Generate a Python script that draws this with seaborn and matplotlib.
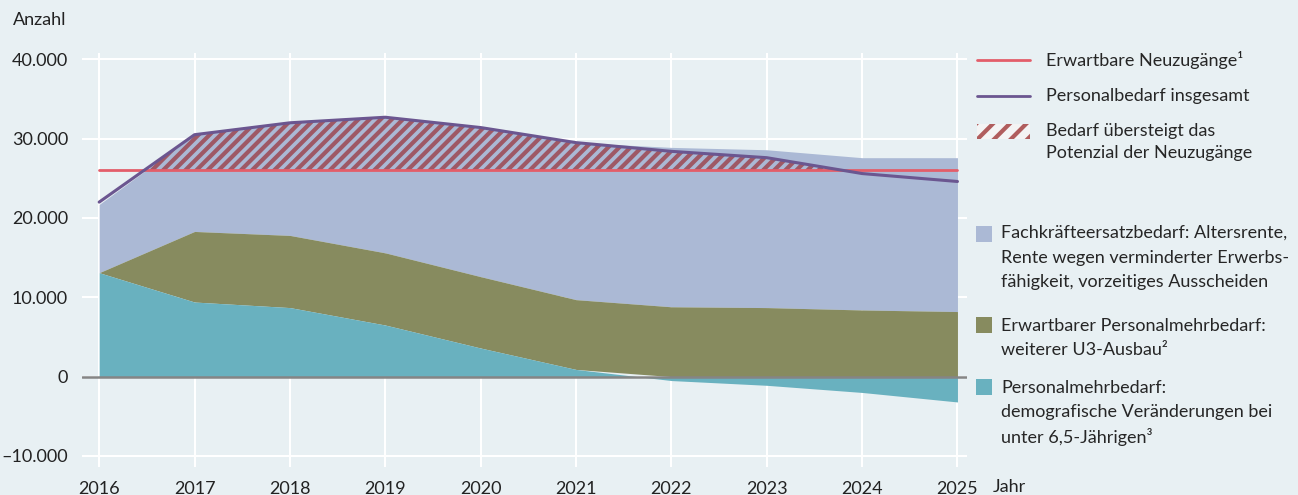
import matplotlib
matplotlib.use("Agg")
import matplotlib.pyplot as plt
import numpy as np
import pandas as pd
import seaborn as sns
from matplotlib.lines import Line2D
from matplotlib.patches import Rectangle
from matplotlib.ticker import FuncFormatter

# Daten
jahre = [2016, 2017, 2018, 2019, 2020, 2021, 2022, 2023, 2024, 2025]
demografie = [13100, 9400, 8700, 6500, 3600, 900, -500, -1100, -2000, -3200]
u3_ausbau = [0, 8900, 9100, 9100, 9000, 8800, 8800, 8700, 8400, 8200]
ersatzbedarf = [8600, 12200, 14200, 17100, 18800, 19800, 20100, 19900, 19200, 19400]
bedarf_gesamt = [22000, 30500, 32000, 32700, 31400, 29500, 28400, 27600, 25600, 24600]
neuzugaenge = [26000, 26000, 26000, 26000, 26000, 26000, 26000, 26000, 26000, 26000]

yticks = [-10000, 0, 10000, 20000, 30000, 40000]

# Farben
bg = "#e8f0f3"
c_lav = "#abb9d5"
c_olive = "#878b5f"
c_teal = "#69b1bf"
c_red = "#e35d6a"
c_purple = "#6b5690"
c_hatch = "#9e5865"

sns.set_theme(style="darkgrid")
plt.rcParams["font.family"] = ["Lato", "DejaVu Sans"]
plt.rcParams["hatch.linewidth"] = 3.0

df = pd.DataFrame({
    "jahr": jahre,
    "demografie": demografie,
    "u3": u3_ausbau,
    "ersatz": ersatzbedarf,
    "gesamt": bedarf_gesamt,
    "neu": neuzugaenge,
})
demo_pos = np.clip(df["demografie"].values, 0, None)
olive_top = demo_pos + df["u3"].values
lav_top = olive_top + df["ersatz"].values

W, H = 1298, 495
fig = plt.figure(figsize=(W / 100, H / 100), dpi=100)
fig.patch.set_facecolor(bg)
ax = fig.add_axes([82 / W, 1 - 467 / H, (967 - 82) / W, (467 - 53) / H])
ax.set_facecolor(bg)

# gestapelte Flächen
ax.fill_between(df["jahr"], olive_top, lav_top, color=c_lav, lw=0, zorder=2)
ax.fill_between(df["jahr"], demo_pos, olive_top, color=c_olive, lw=0, zorder=2)
ax.fill_between(df["jahr"], 0, df["demografie"], color=c_teal, lw=0, zorder=2)

# Bedarf übersteigt Neuzugänge
ax.fill_between(df["jahr"], df["neu"], df["gesamt"], where=df["gesamt"] > df["neu"],
                interpolate=True, facecolor="none", edgecolor=c_hatch, hatch="///",
                lw=0, zorder=3)

ax.axhline(0, color="#858585", lw=1.8, zorder=4)
sns.lineplot(data=df, x="jahr", y="neu", color=c_red, lw=2, ax=ax, zorder=5)
sns.lineplot(data=df, x="jahr", y="gesamt", color=c_purple, lw=2.2, ax=ax, zorder=6)

ax.set_xlim(2015.82, 2025.1)
ax.set_ylim(-11400, 40800)
ax.set_xticks(jahre)
ax.set_yticks(yticks)
ax.yaxis.set_major_formatter(FuncFormatter(
    lambda v, p: ("\u2013" if v < 0 else "") + f"{abs(v):,.0f}".replace(",", ".")))
ax.grid(True, color="white", lw=1.5)
ax.set_axisbelow(True)
ax.tick_params(axis="both", length=0, labelsize=13, colors="#222222", pad=10)
ax.set_xlabel("")
ax.set_ylabel("")
for s in ax.spines.values():
    s.set_visible(False)

fig.text(13 / W, 1 - 20 / H, "Anzahl", fontsize=13, color="#222222", va="center", ha="left")
fig.text(993 / W, 1 - 487 / H, "Jahr", fontsize=13, color="#222222", va="center", ha="left")


# Legende (manuell in Pixelkoordinaten)
def fx(x):
    return x / W


def fy(y):
    return 1 - y / H


fs = 13
tc = "#262626"
fig.add_artist(Line2D([fx(977), fx(1030)], [fy(60), fy(60)], color=c_red, lw=2,
                      transform=fig.transFigure))
fig.text(fx(1046), fy(60), "Erwartbare Neuzugänge\u00b9", fontsize=fs, color=tc, va="center")
fig.add_artist(Line2D([fx(977), fx(1030)], [fy(96), fy(96)], color=c_purple, lw=2,
                      transform=fig.transFigure))
fig.text(fx(1046), fy(96), "Personalbedarf insgesamt", fontsize=fs, color=tc, va="center")
fig.add_artist(Rectangle((fx(977), fy(139)), 53 / W, 15 / H, transform=fig.transFigure,
                         facecolor="#f4f4f4", edgecolor="#b05d5d", hatch="//", lw=0))
fig.text(fx(1046), fy(131), "Bedarf übersteigt das", fontsize=fs, color=tc, va="center")
fig.text(fx(1046), fy(153), "Potenzial der Neuzugänge", fontsize=fs, color=tc, va="center")

eintraege = [
    (c_lav, 226, ["Fachkräfteersatzbedarf: Altersrente,",
                  "Rente wegen verminderter Erwerbs-",
                  "fähigkeit, vorzeitiges Ausscheiden"], [233, 258, 282]),
    (c_olive, 317, ["Erwartbarer Personalmehrbedarf:",
                    "weiterer U3-Ausbau\u00b2"], [326, 350]),
    (c_teal, 379, ["Personalmehrbedarf:",
                   "demografische Veränderungen bei",
                   "unter 6,5-Jährigen\u00b3"], [388, 412, 437]),
]
for farbe, ytop, zeilen, ys in eintraege:
    fig.add_artist(Rectangle((fx(976), fy(ytop + 16)), 16 / W, 16 / H,
                             transform=fig.transFigure, facecolor=farbe, lw=0))
    for z, yy in zip(zeilen, ys):
        fig.text(fx(1001), fy(yy), z, fontsize=fs, color=tc, va="center")

fig.savefig("out.png", dpi=100, facecolor=bg)
